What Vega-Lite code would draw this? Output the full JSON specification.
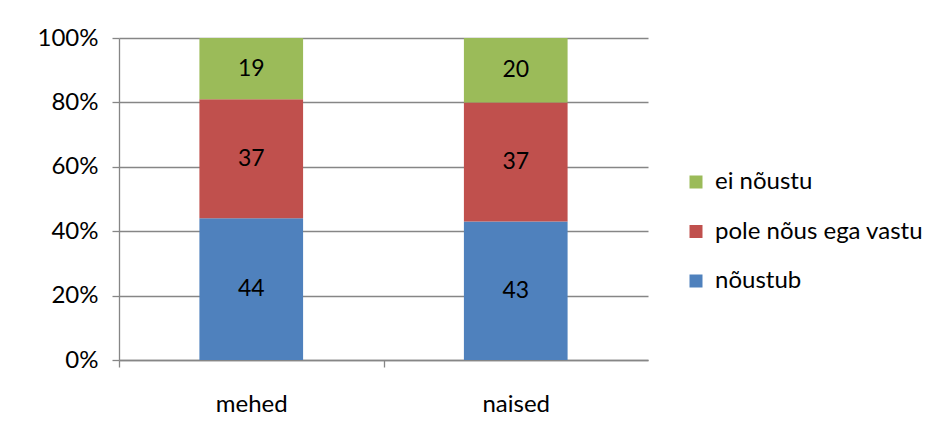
{
  "$schema": "https://vega.github.io/schema/vega-lite/v6.json",
  "width": 529,
  "height": 322,
  "autosize": {"type": "none"},
  "padding": {"left": 119, "top": 38, "right": 294, "bottom": 79},
  "background": "white",
  "config": {
    "font": "Lato",
    "view": {"stroke": null},
    "axis": {"labelFont": "Lato", "labelFontSize": 24, "labelColor": "#000000", "domainColor": "#868686", "tickColor": "#868686", "gridColor": "#868686", "domainWidth": 1.3, "tickWidth": 1.3, "gridWidth": 1.3, "tickSize": 7}
  },
  "data": {
    "values": [
      {"sugu": "mehed", "vastus": "nõustub", "jrk": 1, "v": 44},
      {"sugu": "mehed", "vastus": "pole nõus ega vastu", "jrk": 2, "v": 37},
      {"sugu": "mehed", "vastus": "ei nõustu", "jrk": 3, "v": 19},
      {"sugu": "naised", "vastus": "nõustub", "jrk": 1, "v": 43},
      {"sugu": "naised", "vastus": "pole nõus ega vastu", "jrk": 2, "v": 37},
      {"sugu": "naised", "vastus": "ei nõustu", "jrk": 3, "v": 20}
    ]
  },
  "transform": [
    {"stack": "v", "groupby": ["sugu"], "sort": [{"field": "jrk", "order": "ascending"}], "offset": "normalize", "as": ["y0", "y1"]},
    {"calculate": "(datum.y0 + datum.y1) / 2", "as": "ym"}
  ],
  "encoding": {
    "x": {
      "field": "sugu", "type": "nominal", "sort": ["mehed", "naised"],
      "scale": {"paddingInner": 0.608, "paddingOuter": 0.304},
      "axis": {"title": null, "labelAngle": 0, "ticks": true, "tickOffset": -132.25, "labelOffset": 132.25, "labelPadding": 25, "grid": false}
    }
  },
  "layer": [
    {
      "mark": {"type": "bar"},
      "encoding": {
        "y": {
          "field": "y0", "type": "quantitative", "scale": {"domain": [0, 1], "nice": false},
          "axis": {"title": null, "format": "%", "values": [0, 0.2, 0.4, 0.6, 0.8, 1], "grid": true, "labelPadding": 14}
        },
        "y2": {"field": "y1"},
        "color": {
          "field": "vastus", "type": "nominal",
          "scale": {"domain": ["ei nõustu", "pole nõus ega vastu", "nõustub"], "range": ["#9BBB59", "#C0504D", "#4F81BD"]},
          "legend": {
            "title": null, "orient": "none", "legendX": 565, "legendY": 132,
            "symbolType": "square", "symbolSize": 169, "symbolStrokeWidth": 0,
            "labelFont": "Lato", "labelFontSize": 24, "labelColor": "#000000",
            "rowPadding": 25.5, "labelOffset": 7, "labelLimit": 400
          }
        }
      }
    },
    {
      "mark": {"type": "text", "fontSize": 23, "font": "Lato", "color": "#000000"},
      "encoding": {
        "y": {"field": "ym", "type": "quantitative"},
        "text": {"field": "v", "type": "quantitative"}
      }
    }
  ]
}
